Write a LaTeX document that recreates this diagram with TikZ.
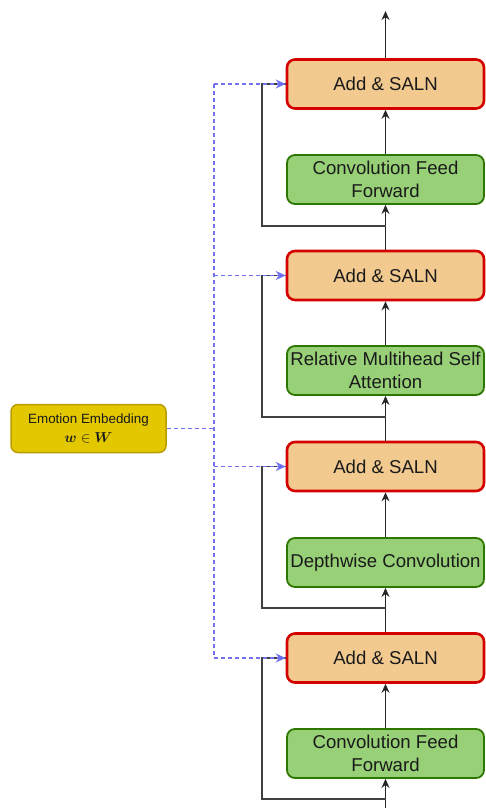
\documentclass[tikz,border=0pt]{standalone}
\usepackage{amsmath}
\usepackage{fontspec}
\setmainfont{Liberation Sans}
\usetikzlibrary{arrows.meta}
\definecolor{addfill}{HTML}{F2CA8F}
\definecolor{addline}{HTML}{D40000}
\definecolor{grnfill}{HTML}{97D077}
\definecolor{grnline}{HTML}{2D7600}
\definecolor{emofill}{HTML}{E3C800}
\definecolor{emoline}{HTML}{B89C00}
\definecolor{dashblue}{HTML}{7272EE}
\definecolor{txt}{HTML}{1A1A1A}
\begin{document}
\begin{tikzpicture}[x=1pt,y=-1pt,
  box/.style={rounded corners=8pt, minimum width=197pt, minimum height=49pt, inner sep=0pt, align=center, text=txt, font=\fontsize{18.6}{22.5}\selectfont},
  addbox/.style={box, fill=addfill, draw=addline, line width=2.6pt},
  grnbox/.style={box, fill=grnfill, draw=grnline, line width=1.8pt},
  emobox/.style={rounded corners=7pt, minimum width=155pt, minimum height=48pt, inner sep=0pt, align=center, text=txt, fill=emofill, draw=emoline, line width=1.5pt, font=\fontsize{13.4}{18}\selectfont},
  flow/.style={draw=black!85, line width=1.3pt, -{Stealth[length=9pt,width=8pt]}},
  skip/.style={draw=black!75, line width=1.3pt},
  emb/.style={draw=dashblue, line width=1.3pt, dash pattern=on 4pt off 3pt},
  emba/.style={emb, -{Stealth[length=10pt,width=9pt,fill=dashblue!80!blue]}}
]
\useasboundingbox (0,0) rectangle (486,808);

% boxes
\node[addbox] (add1) at (385.5,84) {Add \& SALN};
\node[grnbox] (cff1) at (385.5,179.5) {Convolution Feed\\Forward};
\node[addbox] (add2) at (385.5,275.5) {Add \& SALN};
\node[grnbox] (rmsa) at (385.5,370.5) {Relative Multihead Self\\Attention};
\node[addbox] (add3) at (385.5,466.5) {Add \& SALN};
\node[grnbox] (dwc) at (385.5,562.5) {Depthwise Convolution};
\node[addbox] (add4) at (385.5,658) {Add \& SALN};
\node[grnbox] (cff2) at (385.5,753.5) {Convolution Feed\\Forward};
\node[emobox] (emo) at (88.5,428.5) {Emotion Embedding\\[1pt]{\fontsize{15}{15}\selectfont$\boldsymbol{w}\in \boldsymbol{W}$}};

% coordinates
\coordinate (out) at (385.5,11);
\coordinate (in) at (385.5,808);
\coordinate (b1) at (385.5,226);
\coordinate (c1) at (262,226);
\coordinate (b2) at (385.5,417);
\coordinate (c2) at (262,417);
\coordinate (b3) at (385.5,608);
\coordinate (c3) at (262,608);
\coordinate (b4) at (385.5,799);
\coordinate (c4) at (262,799);
\coordinate (ej) at (214,428.5);
\coordinate (d1) at (214,84);
\coordinate (d2) at (214,275.5);
\coordinate (d3) at (214,466.5);
\coordinate (d4) at (214,658);

% main flow
\draw[flow] (add1.north) -- (out);
\draw[flow] (cff1.north) -- (add1.south);
\draw[flow] (add2.north) -- (cff1.south);
\draw[flow] (rmsa.north) -- (add2.south);
\draw[flow] (add3.north) -- (rmsa.south);
\draw[flow] (dwc.north) -- (add3.south);
\draw[flow] (add4.north) -- (dwc.south);
\draw[flow] (cff2.north) -- (add4.south);
\draw[flow] (in) -- (cff2.south);

% residual skips
\draw[skip] (b1) -- (c1) |- (add1.west);
\draw[skip] (b2) -- (c2) |- (add2.west);
\draw[skip] (b3) -- (c3) |- (add3.west);
\draw[skip] (b4) -- (c4) |- (add4.west);

% emotion embedding
\draw[emb] (emo.east) -- (ej);
\draw[emb] (d1) -- (d4);
\draw[emba] (d1) -- (add1.west);
\draw[emba] (d2) -- (add2.west);
\draw[emba] (d3) -- (add3.west);
\draw[emba] (d4) -- (add4.west);
\end{tikzpicture}
\end{document}
